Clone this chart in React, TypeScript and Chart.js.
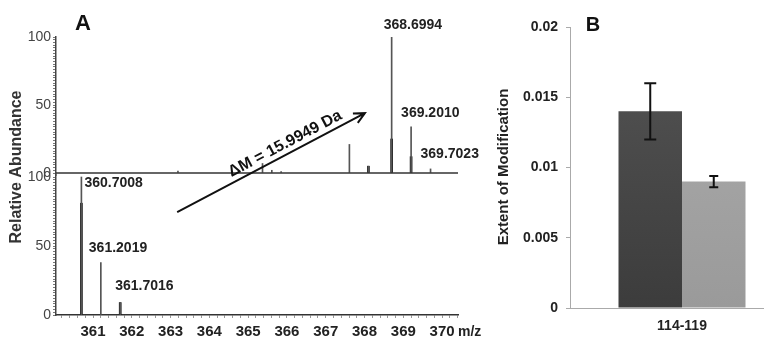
import React, { useEffect, useRef } from "react";
import { Chart, registerables } from "chart.js";
Chart.register(...registerables);

const FONT = "'Liberation Sans', Arial, Helvetica, sans-serif";

// ---------- Panel A: mass spectra ----------
const topMz = [363.19, 365.37, 365.61, 365.85, 367.61, 368.1, 368.6994, 369.201, 369.7023];
const topIntensity = [1.5, 7, 2, 1, 21, 5, 100, 34, 3];
const topCoreMz = [368.1, 368.6994, 369.201];
const topCoreIntensity = [5, 25, 12];
const bottomMz = [360.7008, 361.2019, 361.7016];
const bottomIntensity = [100, 38, 9];
const bottomCoreMz = [360.7008, 361.7016];
const bottomCoreIntensity = [81, 9];
const labeledTopMz = [368.6994, 369.201, 369.7023];
const labeledBottomMz = [360.7008, 361.2019, 361.7016];
const mzTickLabels = [361, 362, 363, 364, 365, 366, 367, 368, 369, 370];
const abundanceTickLabels = [0, 50, 100];
const deltaMassLabel = "\u0394M = 15.9949 Da";
const arrowStart = { mz: 363.17, abundance: 74.6 }; // on lower spectrum
const arrowEnd = { mz: 368.01, abundance: 44 }; // on upper spectrum

// ---------- Panel B: bar chart ----------
const regions = ["114-119"];
const seriesDark = [0.014];
const seriesDarkErr = [0.002];
const seriesLight = [0.009];
const seriesLightErr = [0.0004];
const extentTicks = [0, 0.005, 0.01, 0.015, 0.02];

const pts = (xs: number[], ys: number[]) => xs.map((x, i) => ({ x, y: ys[i] }));

function minorTicks(from: number, to: number, step: number) {
  const out: { value: number }[] = [];
  const n = Math.round((to - from) / step);
  for (let i = 0; i <= n; i++) out.push({ value: Math.round((from + i * step) * 1000) / 1000 });
  return out;
}

function SpectrumPanel() {
  const ref = useRef<HTMLCanvasElement>(null);
  useEffect(() => {
    const labelOffsetsTop = [
      { dx: -8, dy: -12 },
      { dx: -10, dy: -14 },
      { dx: -10, dy: -15 },
    ];
    const labelOffsetsBottom = [
      { dx: 3, dy: 6 },
      { dx: -12, dy: -14 },
      { dx: -5, dy: -16 },
    ];
    const annot = {
      id: "annot",
      afterDatasetsDraw(chart: any) {
        const ctx = chart.ctx;
        const x = chart.scales.x;
        const yt = chart.scales.yTop;
        const yb = chart.scales.yBot;
        ctx.save();
        // baseline of the upper spectrum
        ctx.strokeStyle = "#333";
        ctx.lineWidth = 1.5;
        ctx.beginPath();
        const by = yt.getPixelForValue(0);
        ctx.moveTo(x.left, by);
        ctx.lineTo(x.right, by);
        ctx.stroke();

        ctx.fillStyle = "#222";
        ctx.font = `bold 14px ${FONT}`;
        ctx.textBaseline = "middle";
        ctx.textAlign = "left";
        labeledTopMz.forEach((mz, i) => {
          const idx = topMz.indexOf(mz);
          const px = x.getPixelForValue(mz);
          const py = yt.getPixelForValue(topIntensity[idx]);
          ctx.fillText(mz.toFixed(4), px + labelOffsetsTop[i].dx, py + labelOffsetsTop[i].dy);
        });
        labeledBottomMz.forEach((mz, i) => {
          const idx = bottomMz.indexOf(mz);
          const px = x.getPixelForValue(mz);
          const py = yb.getPixelForValue(bottomIntensity[idx]);
          ctx.fillText(mz.toFixed(4), px + labelOffsetsBottom[i].dx, py + labelOffsetsBottom[i].dy);
        });
        // m/z unit
        ctx.fillText("m/z", x.right, 332);
        // panel letter
        ctx.font = `bold 22px ${FONT}`;
        ctx.textAlign = "center";
        ctx.fillStyle = "#111";
        ctx.fillText("A", 83, 24);
        // y title
        ctx.save();
        ctx.translate(17, 167);
        ctx.rotate(-Math.PI / 2);
        ctx.font = `bold 16px ${FONT}`;
        ctx.fillStyle = "#333";
        ctx.fillText("Relative Abundance", 0, 0);
        ctx.restore();
        // arrow
        const x0 = x.getPixelForValue(arrowStart.mz);
        const y0 = yb.getPixelForValue(arrowStart.abundance);
        const x1 = x.getPixelForValue(arrowEnd.mz);
        const y1 = yt.getPixelForValue(arrowEnd.abundance);
        const th = Math.atan2(y1 - y0, x1 - x0);
        ctx.strokeStyle = "#111";
        ctx.lineWidth = 2;
        ctx.beginPath();
        ctx.moveTo(x0, y0);
        ctx.lineTo(x1, y1);
        const hl = 12;
        const ha = 0.45;
        ctx.moveTo(x1 - hl * Math.cos(th - ha), y1 - hl * Math.sin(th - ha));
        ctx.lineTo(x1, y1);
        ctx.lineTo(x1 - hl * Math.cos(th + ha), y1 - hl * Math.sin(th + ha));
        ctx.stroke();
        const t = 0.6;
        ctx.translate(x0 + (x1 - x0) * t, y0 + (y1 - y0) * t);
        ctx.rotate(th);
        ctx.font = `bold 16px ${FONT}`;
        ctx.fillStyle = "#111";
        ctx.textAlign = "center";
        ctx.fillText(deltaMassLabel, 0, -10);
        ctx.restore();
      },
    };
    const thin = { type: "bar", backgroundColor: "#555", barThickness: 1, grouped: false };
    const thick = { type: "bar", backgroundColor: "#111", barThickness: 2, grouped: false };
    const yCommon = (min: number, max: number, stackWeight: number, weight: number) => ({
      type: "linear",
      position: "left",
      stack: "ms",
      stackWeight,
      weight,
      min,
      max,
      offset: false,
      afterFit: (s: any) => {
        s.width = 56;
      },
      afterBuildTicks: (s: any) => {
        s.ticks = minorTicks(0, 100, 2);
      },
      ticks: {
        autoSkip: false,
        padding: 2,
        color: "#444",
        font: { family: FONT, size: 14 },
        callback: (v: number) => (abundanceTickLabels.includes(v) ? String(v) : ""),
      },
      grid: {
        drawOnChartArea: false,
        color: "#777",
        tickColor: "#777",
        tickLength: 3,
        lineWidth: 1,
      },
      border: { color: "#444", width: 1.5 },
    });
    const chart = new Chart(ref.current!, {
      type: "bar",
      data: {
        datasets: [
          { ...thin, data: pts(topMz, topIntensity), yAxisID: "yTop" },
          { ...thick, data: pts(topCoreMz, topCoreIntensity), yAxisID: "yTop" },
          { ...thin, data: pts(bottomMz, bottomIntensity), yAxisID: "yBot" },
          { ...thick, data: pts(bottomCoreMz, bottomCoreIntensity), yAxisID: "yBot" },
        ] as any,
      },
      options: {
        animation: false,
        responsive: false,
        maintainAspectRatio: false,
        layout: { padding: { top: 37, right: 32, left: 0, bottom: 0 } },
        plugins: { legend: { display: false }, tooltip: { enabled: false } },
        scales: {
          x: {
            type: "linear",
            position: "bottom",
            min: 360.046,
            max: 370.41,
            offset: false,
            afterFit: (s: any) => {
              s.height = 26;
            },
            afterBuildTicks: (s: any) => {
              s.ticks = minorTicks(360.2, 370.4, 0.2);
            },
            ticks: {
              autoSkip: false,
              maxRotation: 0,
              padding: 5,
              color: "#222",
              font: { family: FONT, size: 15, weight: "bold" },
              callback: (v: number) => {
                const r = Math.round(v);
                return Math.abs(v - r) < 1e-6 && mzTickLabels.includes(r) ? String(r) : "";
              },
            },
            grid: { drawOnChartArea: false, offset: false, tickLength: 3, tickColor: "#999", color: "#999" },
            border: { color: "#333", width: 1.5 },
          },
          yTop: yCommon(-1.47, 100, 138, 1),
          yBot: yCommon(0, 101.45, 140, 0),
        } as any,
      },
      plugins: [annot],
    } as any);
    return () => chart.destroy();
  }, []);
  return <canvas ref={ref} width={490} height={341} style={{ position: "absolute", left: 0, top: 0 }} />;
}

function BarPanel() {
  const ref = useRef<HTMLCanvasElement>(null);
  useEffect(() => {
    const errs = [seriesDarkErr, seriesLightErr];
    const vals = [seriesDark, seriesLight];
    const capW = [12, 9];
    const extras = {
      id: "extras",
      afterDatasetsDraw(chart: any) {
        const ctx = chart.ctx;
        const y = chart.scales.y;
        ctx.save();
        ctx.strokeStyle = "#111";
        ctx.lineWidth = 2;
        for (let d = 0; d < 2; d++) {
          const meta = chart.getDatasetMeta(d);
          meta.data.forEach((bar: any, i: number) => {
            const lo = y.getPixelForValue(vals[d][i] - errs[d][i]);
            const hi = y.getPixelForValue(vals[d][i] + errs[d][i]);
            ctx.beginPath();
            ctx.moveTo(bar.x, lo);
            ctx.lineTo(bar.x, hi);
            ctx.moveTo(bar.x - capW[d] / 2, lo);
            ctx.lineTo(bar.x + capW[d] / 2, lo);
            ctx.moveTo(bar.x - capW[d] / 2, hi);
            ctx.lineTo(bar.x + capW[d] / 2, hi);
            ctx.stroke();
          });
        }
        ctx.fillStyle = "#111";
        ctx.textAlign = "center";
        ctx.textBaseline = "middle";
        ctx.font = `bold 20px ${FONT}`;
        ctx.fillText("B", 113, 25);
        ctx.translate(24, 167);
        ctx.rotate(-Math.PI / 2);
        ctx.font = `bold 15px ${FONT}`;
        ctx.fillStyle = "#222";
        ctx.fillText("Extent of Modification", 0, 0);
        ctx.restore();
      },
    };
    const grad = (top: string, bottom: string) => (c: any) => {
      const ca = c.chart.chartArea;
      if (!ca) return bottom;
      const g = c.chart.ctx.createLinearGradient(0, ca.top, 0, ca.bottom);
      g.addColorStop(0, top);
      g.addColorStop(1, bottom);
      return g;
    };
    const chart = new Chart(ref.current!, {
      type: "bar",
      data: {
        labels: regions,
        datasets: [
          { data: seriesDark, backgroundColor: grad("#555555", "#3c3c3c") },
          { data: seriesLight, backgroundColor: grad("#adadad", "#9a9a9a") },
        ],
      },
      options: {
        animation: false,
        responsive: false,
        maintainAspectRatio: false,
        layout: { padding: { top: 27, left: 0, right: 0, bottom: 0 } },
        datasets: { bar: { categoryPercentage: 0.567, barPercentage: 1 } },
        plugins: { legend: { display: false }, tooltip: { enabled: false } },
        scales: {
          x: {
            afterFit: (s: any) => {
              s.height = 33;
            },
            grid: { display: false, drawTicks: false },
            border: { display: true, color: "#aaa", width: 1 },
            ticks: { padding: 10, color: "#222", font: { family: FONT, size: 14, weight: "bold" } },
          },
          y: {
            min: 0,
            max: 0.02,
            afterFit: (s: any) => {
              s.width = 90;
            },
            afterBuildTicks: (s: any) => {
              s.ticks = extentTicks.map((v) => ({ value: v }));
            },
            ticks: {
              padding: 8,
              color: "#222",
              font: { family: FONT, size: 14, weight: "bold" },
              callback: (v: number) => String(Math.round(v * 1000) / 1000),
            },
            grid: { drawOnChartArea: false, tickLength: 4, color: "#aaa" },
            border: { color: "#aaa", width: 1 },
          },
        } as any,
      },
      plugins: [extras],
    } as any);
    return () => chart.destroy();
  }, []);
  return <canvas ref={ref} width={314} height={341} style={{ position: "absolute", left: 480, top: 0 }} />;
}

export default function App() {
  return (
    <div style={{ position: "fixed", left: 0, top: 0, width: 764, height: 341, overflow: "hidden", background: "#fff" }}>
      <SpectrumPanel />
      <BarPanel />
    </div>
  );
}
